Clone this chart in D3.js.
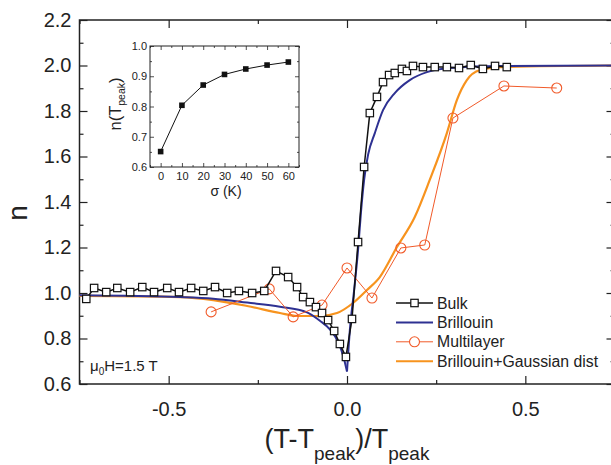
<!DOCTYPE html>
<html>
<head>
<meta charset="utf-8">
<script src="https://cdn.jsdelivr.net/npm/d3@7"></script>
<style>
body {margin: 0; background: #fff;}
svg {display: block; font-family: "Liberation Sans", Arial, sans-serif;}
</style>
</head>
<body>
<svg width="611" height="465"></svg>
<script>
// Bulk (squares)
const bulkX = [-0.731, -0.709, -0.675, -0.644, -0.608, -0.574, -0.541, -0.504, -0.471, -0.437, -0.403, -0.370, -0.336, -0.303, -0.266, -0.232,
    -0.199, -0.165, -0.140, -0.123, -0.104, -0.087, -0.070, -0.053, -0.036, -0.020, -0.003, 0.014, 0.031, 0.048, 0.064, 0.084,
    0.101, 0.118, 0.134, 0.154, 0.168, 0.185, 0.213, 0.246, 0.280, 0.314, 0.347, 0.381, 0.415, 0.448];
const bulkN = [0.974, 1.022, 1.004, 1.022, 1.004, 1.026, 1.004, 1.022, 1.004, 1.022, 1.009, 1.026, 1.000, 1.009, 1.000, 1.009,
    1.097, 1.070, 1.026, 0.982, 0.960, 0.938, 0.912, 0.881, 0.833, 0.776, 0.719, 0.886, 1.224, 1.554, 1.791, 1.862,
    1.927, 1.958, 1.967, 1.985, 1.976, 1.998, 1.993, 1.993, 1.993, 1.989, 2.002, 1.985, 1.998, 1.993];

// Brillouin fit, two branches meeting at the cusp
const brilLeftX = [-0.75, -0.468, -0.375, -0.280, -0.188, -0.112, -0.076, -0.048, -0.025, -0.010, 0];
const brilLeftN = [0.990, 0.982, 0.975, 0.958, 0.940, 0.915, 0.878, 0.840, 0.785, 0.720, 0.655];
const brilRightX = [0, 0.008, 0.020, 0.031, 0.039, 0.048, 0.059, 0.078, 0.101, 0.134, 0.176, 0.224, 0.289, 0.429, 0.75];
const brilRightN = [0.655, 0.837, 1.013, 1.189, 1.352, 1.497, 1.607, 1.703, 1.804, 1.879, 1.936, 1.971, 1.989, 1.998, 2.0];

// Multilayer (circles)
const multiX = [-0.381, -0.218, -0.151, -0.070, 0.0, 0.070, 0.151, 0.218, 0.297, 0.440, 0.588];
const multiN = [0.917, 1.018, 0.895, 0.947, 1.110, 0.978, 1.198, 1.211, 1.769, 1.910, 1.901];

// Brillouin + Gaussian dist
const gaussX = [-0.75, -0.468, -0.375, -0.280, -0.188, -0.140, -0.076, -0.028, 0.017, 0.056, 0.092, 0.140, 0.190, 0.232,
    0.280, 0.308, 0.336, 0.373, 0.429, 0.75];
const gaussN = [0.987, 0.982, 0.969, 0.943, 0.912, 0.899, 0.899, 0.912, 0.956, 1.013, 1.070, 1.202, 1.334, 1.497,
    1.703, 1.848, 1.936, 1.980, 1.993, 2.0];

// inset: n(Tpeak) vs sigma
const sigma = [0, 10, 20, 30, 40, 50, 60];
const nPeak = [0.651, 0.804, 0.871, 0.906, 0.924, 0.937, 0.947];

const xTicks = [-0.5, 0, 0.5];
const xMinor = [-0.75, -0.25, 0.25, 0.75];
const yTicks = [0.6, 0.8, 1.0, 1.2, 1.4, 1.6, 1.8, 2.0, 2.2];
const yMinor = [0.7, 0.9, 1.1, 1.3, 1.5, 1.7, 1.9, 2.1];
const insetXTicks = [0, 10, 20, 30, 40, 50, 60];
const insetXMinor = [-5, 5, 15, 25, 35, 45, 55, 65];
const insetYTicks = [0.6, 0.7, 0.8, 0.9, 1.0];
const insetYMinor = [0.65, 0.75, 0.85, 0.95];

const BLUE = '#2e3192', ORANGE = '#f7931e', RED = '#f15a29';

const svg = d3.select('svg');
const x = d3.scaleLinear().domain([-0.75, 0.75]).range([79.5, 614.5]);
const y = d3.scaleLinear().domain([0.6, 2.2]).range([384, 20]);

const zip = (a, b) => a.map((v, i) => [v, b[i]]);

// frame ticks, all inward
function frameAxes(g, xs, ys, xt, xm, yt, ym, major, minor, fmtX, fmtY, pad, fs) {
    const [x0, x1] = xs.range();
    const [y0, y1] = ys.range();
    const bottom = g.append('g').attr('transform', `translate(0,${y0})`)
        .call(d3.axisBottom(xs).tickValues(xt).tickSize(-major).tickPadding(pad.x).tickFormat(fmtX));
    bottom.selectAll('text').style('font-size', fs + 'px');
    g.append('g').attr('transform', `translate(0,${y0})`)
        .call(d3.axisBottom(xs).tickValues(xm).tickSize(-minor).tickFormat(''));
    g.append('g').attr('transform', `translate(0,${y1})`)
        .call(d3.axisTop(xs).tickValues(xt).tickSize(-major).tickFormat(''));
    g.append('g').attr('transform', `translate(0,${y1})`)
        .call(d3.axisTop(xs).tickValues(xm).tickSize(-minor).tickFormat(''));
    const left = g.append('g').attr('transform', `translate(${x0},0)`)
        .call(d3.axisLeft(ys).tickValues(yt).tickSize(-major).tickPadding(pad.y).tickFormat(fmtY));
    left.selectAll('text').style('font-size', fs + 'px');
    g.append('g').attr('transform', `translate(${x0},0)`)
        .call(d3.axisLeft(ys).tickValues(ym).tickSize(-minor).tickFormat(''));
    g.append('g').attr('transform', `translate(${x1},0)`)
        .call(d3.axisRight(ys).tickValues(yt).tickSize(-major).tickFormat(''));
    g.append('g').attr('transform', `translate(${x1},0)`)
        .call(d3.axisRight(ys).tickValues(ym).tickSize(-minor).tickFormat(''));
    g.selectAll('.domain').remove();
    g.selectAll('.tick line').attr('stroke', '#222').attr('stroke-width', 1.2);
    g.selectAll('.tick text').attr('fill', '#222').style('font-family', '"Liberation Sans", Arial, sans-serif');
    g.append('rect').attr('class', 'frame').attr('x', x0).attr('y', y1).attr('width', x1 - x0).attr('height', y0 - y1)
        .attr('fill', 'none').attr('stroke', '#222').attr('stroke-width', 1.5);
}

const main = svg.append('g');
frameAxes(main, x, y, xTicks, xMinor, yTicks, yMinor, 8, 4,
    d => d.toFixed(1), d => d.toFixed(1), {x: 18, y: 8}, 20);

const plot = main.append('g');
const line = d3.line().x(d => x(d[0])).y(d => y(d[1]));
const smooth = d3.line().x(d => x(d[0])).y(d => y(d[1])).curve(d3.curveMonotoneX);

plot.append('path').datum(zip(gaussX, gaussN)).attr('d', smooth)
    .attr('fill', 'none').attr('stroke', ORANGE).attr('stroke-width', 2.2);
plot.append('path').datum(zip(brilLeftX, brilLeftN)).attr('d', smooth)
    .attr('fill', 'none').attr('stroke', BLUE).attr('stroke-width', 2);
plot.append('path').datum(zip(brilRightX, brilRightN)).attr('d', smooth)
    .attr('fill', 'none').attr('stroke', BLUE).attr('stroke-width', 2);

plot.append('path').datum(zip(multiX, multiN)).attr('d', line)
    .attr('fill', 'none').attr('stroke', RED).attr('stroke-width', 1);
plot.selectAll('.circ').data(zip(multiX, multiN)).enter().append('circle')
    .attr('cx', d => x(d[0])).attr('cy', d => y(d[1])).attr('r', 5)
    .attr('fill', 'none').attr('stroke', RED).attr('stroke-width', 1.1);

plot.append('path').datum(zip(bulkX, bulkN)).attr('d', line)
    .attr('fill', 'none').attr('stroke', '#111').attr('stroke-width', 1.5);
plot.selectAll('.sq').data(zip(bulkX, bulkN)).enter().append('rect')
    .attr('x', d => x(d[0]) - 3.7).attr('y', d => y(d[1]) - 3.7)
    .attr('width', 7.4).attr('height', 7.4)
    .attr('fill', '#fff').attr('stroke', '#111').attr('stroke-width', 1.2);

// axis titles
svg.append('text').attr('transform', 'translate(27,213) rotate(-90)')
    .attr('text-anchor', 'middle').style('font-size', '28px').attr('fill', '#222').text('n');
const xt = svg.append('text').attr('x', 347).attr('y', 448).attr('text-anchor', 'middle')
    .style('font-size', '27px').attr('fill', '#222');
xt.append('tspan').text('(T-T');
xt.append('tspan').attr('dy', 12).style('font-size', '19px').text('peak');
xt.append('tspan').attr('dy', -12).text(')/T');
xt.append('tspan').attr('dy', 12).style('font-size', '19px').text('peak');

// field annotation
const ann = svg.append('text').attr('x', 90).attr('y', 371).style('font-size', '15px').attr('fill', '#222');
ann.append('tspan').text('\u03bc');
ann.append('tspan').attr('dy', 4).style('font-size', '10px').text('0');
ann.append('tspan').attr('dy', -4).text('H=1.5 T');

// legend
const legendItems = [
    {name: 'Bulk', color: '#111', mark: 'square', w: 1.5},
    {name: 'Brillouin', color: BLUE, mark: null, w: 2},
    {name: 'Multilayer', color: RED, mark: 'circle', w: 1},
    {name: 'Brillouin+Gaussian dist', color: ORANGE, mark: null, w: 2}
];
const legend = svg.append('g');
legendItems.forEach((d, i) => {
    const ly = 303 + i * 19.4;
    legend.append('line').attr('x1', 396).attr('x2', 433).attr('y1', ly).attr('y2', ly)
        .attr('stroke', d.color).attr('stroke-width', d.w);
    if (d.mark === 'square') {
        legend.append('rect').attr('x', 414.5 - 3.7).attr('y', ly - 3.7).attr('width', 7.4).attr('height', 7.4)
            .attr('fill', '#fff').attr('stroke', d.color).attr('stroke-width', 1.2);
    } else if (d.mark === 'circle') {
        legend.append('circle').attr('cx', 414.5).attr('cy', ly).attr('r', 5)
            .attr('fill', '#fff').attr('stroke', d.color).attr('stroke-width', 1.1);
    }
    legend.append('text').attr('x', 437).attr('y', ly + 5.5).style('font-size', '15.8px')
        .attr('fill', '#222').text(d.name);
});

// inset
const ix = d3.scaleLinear().domain([-5, 65]).range([150, 299]);
const iy = d3.scaleLinear().domain([0.6, 1.0]).range([167, 46]);
const inset = svg.append('g');
inset.append('rect').attr('x', 150).attr('y', 46).attr('width', 149).attr('height', 121).attr('fill', '#fff');
frameAxes(inset, ix, iy, insetXTicks, insetXMinor, insetYTicks, insetYMinor, 4, 2,
    d => d, d => d.toFixed(1), {x: 5, y: 3}, 11);
inset.selectAll('.tick line').attr('stroke-width', 0.8);
inset.select('.frame').attr('stroke-width', 1);
const iline = d3.line().x(d => ix(d[0])).y(d => iy(d[1]));
inset.append('path').datum(zip(sigma, nPeak)).attr('d', iline)
    .attr('fill', 'none').attr('stroke', '#111').attr('stroke-width', 1);
inset.selectAll('.pt').data(zip(sigma, nPeak)).enter().append('rect')
    .attr('x', d => ix(d[0]) - 2.8).attr('y', d => iy(d[1]) - 2.8)
    .attr('width', 5.6).attr('height', 5.6).attr('fill', '#111');

const iyl = svg.append('text').attr('transform', 'translate(121,104) rotate(-90)')
    .attr('text-anchor', 'middle').style('font-size', '16.5px').attr('fill', '#222');
iyl.append('tspan').text('n(T');
iyl.append('tspan').attr('dy', 4).style('font-size', '10.5px').text('peak');
iyl.append('tspan').attr('dy', -4).text(')');
svg.append('text').attr('x', 226).attr('y', 196).attr('text-anchor', 'middle')
    .style('font-size', '14px').attr('fill', '#222').text('\u03c3 (K)');
</script>
</body>
</html>
